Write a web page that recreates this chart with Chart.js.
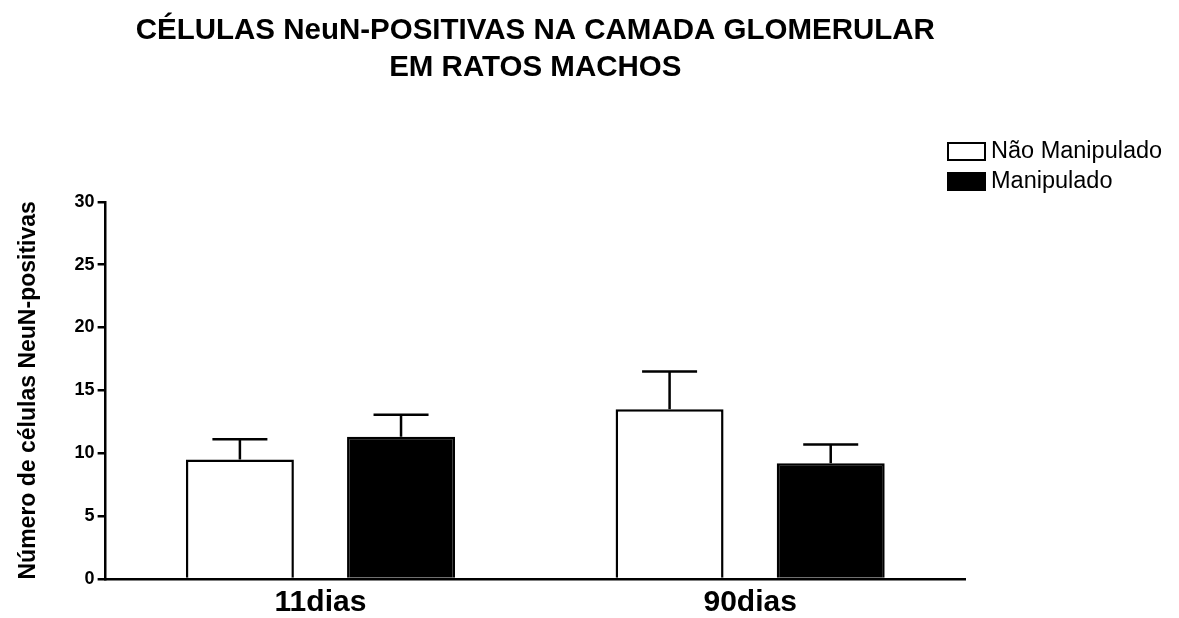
<!DOCTYPE html>
<html>
<head>
<meta charset="utf-8">
<script src="https://cdn.jsdelivr.net/npm/chart.js@4.4.1/dist/chart.umd.min.js"></script>
<style>
	html, body { margin: 0; padding: 0; background: #fff; }
	.wrap { width: 1179px; height: 618px; }
</style>
</head>
<body>
<div class="wrap">
	<canvas id="myChart"></canvas>
</div>

<script>
	// data
	const categories = ['11dias', '90dias'];
	const seriesNames = ['Não Manipulado', 'Manipulado'];
	const naoManipulado = [9.5, 13.5];
	const naoManipuladoErr = [1.6, 3.0];
	const manipulado = [11.3, 9.2];
	const manipuladoErr = [1.75, 1.5];
	const titleLines = ['CÉLULAS NeuN-POSITIVAS NA CAMADA GLOMERULAR', 'EM RATOS MACHOS'];
	const yTitle = 'Número de células NeuN-positivas';

	const fontFamily = '"Liberation Sans", Arial, Helvetica, sans-serif';

	// error bars, upward only, like the original graph
	const errorBars = {
		id: 'errorBars',
		afterDatasetsDraw(chart) {
			const ctx = chart.ctx;
			const yScale = chart.scales.y;
			ctx.save();
			ctx.strokeStyle = '#000';
			ctx.lineWidth = 2.5;
			chart.data.datasets.forEach(function (ds, i) {
				const meta = chart.getDatasetMeta(i);
				meta.data.forEach(function (bar, j) {
					const top = yScale.getPixelForValue(ds.data[j]);
					const end = yScale.getPixelForValue(ds.data[j] + ds.errors[j]);
					ctx.beginPath();
					ctx.moveTo(bar.x, top);
					ctx.lineTo(bar.x, end);
					ctx.moveTo(bar.x - 27.5, end);
					ctx.lineTo(bar.x + 27.5, end);
					ctx.stroke();
				});
			});
			ctx.restore();
		}
	};

	// legend box in the top right corner, stacked as in the original
	const boxLegend = {
		id: 'boxLegend',
		afterDraw(chart) {
			const ctx = chart.ctx;
			ctx.save();
			ctx.font = '23.5px ' + fontFamily;
			ctx.textBaseline = 'middle';
			chart.data.datasets.forEach(function (ds, i) {
				const y = 143 + i * 30;
				ctx.fillStyle = ds.backgroundColor;
				ctx.fillRect(948, y, 37, 17);
				ctx.strokeStyle = '#000';
				ctx.lineWidth = 2;
				ctx.strokeRect(948, y, 37, 17);
				ctx.fillStyle = '#000';
				ctx.fillText(ds.label, 991, y + 9);
			});
			ctx.restore();
		}
	};

	const ctx = document.getElementById('myChart').getContext('2d');
	const myChart = new Chart(ctx, {
		type: 'bar',
		data: {
			labels: categories,
			datasets: [{
				label: seriesNames[0],
				data: naoManipulado,
				errors: naoManipuladoErr,
				backgroundColor: '#ffffff',
				borderColor: '#000000',
				borderWidth: 2.5
			}, {
				label: seriesNames[1],
				data: manipulado,
				errors: manipuladoErr,
				backgroundColor: '#000000',
				borderColor: '#000000',
				borderWidth: 2.5
			}]
		},
		options: {
			responsive: true,
			maintainAspectRatio: false,
			animation: false,
			categoryPercentage: 0.75,
			barPercentage: 0.67,
			layout: {
				padding: { left: 0, right: 214, top: 0, bottom: 0 }
			},
			plugins: {
				legend: { display: false },
				tooltip: { enabled: false },
				title: {
					display: true,
					fullSize: false,
					text: titleLines,
					color: '#000',
					font: { family: fontFamily, size: 29.5, weight: 'bold', lineHeight: 1.25 },
					padding: { top: 12.5, bottom: 115.5 }
				}
			},
			scales: {
				x: {
					grid: { display: false },
					border: { display: true, color: '#000', width: 2.5 },
					ticks: {
						color: '#000',
						padding: 4,
						font: { family: fontFamily, size: 30, weight: 'bold', lineHeight: 0.77 }
					}
				},
				y: {
					min: 0,
					max: 30,
					border: { display: true, color: '#000', width: 2.5 },
					grid: {
						drawOnChartArea: false,
						drawTicks: true,
						tickLength: 8,
						color: '#000',
						lineWidth: 2.5
					},
					ticks: {
						stepSize: 5,
						color: '#000',
						padding: 3,
						font: { family: fontFamily, size: 18, weight: 'bold' }
					},
					title: {
						display: true,
						text: yTitle,
						color: '#000',
						font: { family: fontFamily, size: 23, weight: 'bold' },
						padding: { top: 15, bottom: 29 }
					}
				}
			}
		},
		plugins: [errorBars, boxLegend]
	});
</script>
</body>
</html>
